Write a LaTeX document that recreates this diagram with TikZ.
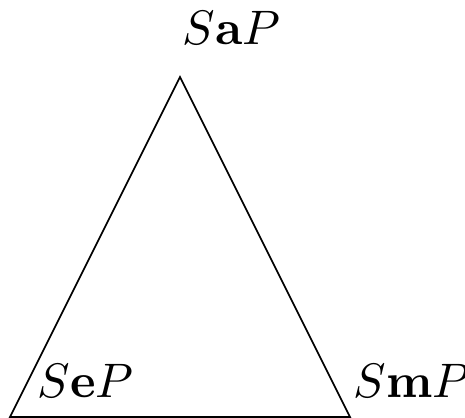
\documentclass[tikz,border=0pt]{standalone}
\usepackage{amsmath}
\usetikzlibrary{calc}

\begin{document}
\begin{tikzpicture}[x=0.2065pt,y=0.2065pt,line width=0.35pt,
    lbl/.style={inner sep=0pt,anchor=base west}]
  \useasboundingbox (-10,-1) rectangle (455,417);
  % vertices of the triangle
  \coordinate (ecorner) at (0,0);
  \coordinate (mcorner) at (340,0);
  \coordinate (acorner) at (170,340);
  \draw (ecorner) -- (mcorner) -- (acorner) -- cycle;
  % labels
  \node[lbl] (sap) at ($(acorner)+(2,32)$) {$S\mathbf{a}P$};
  \node[lbl] (sep) at ($(ecorner)+(27,19)$) {$S\mathbf{e}P$};
  \node[lbl] (smp) at ($(mcorner)+(3,19)$) {$S\mathbf{m}P$};
\end{tikzpicture}
\end{document}
